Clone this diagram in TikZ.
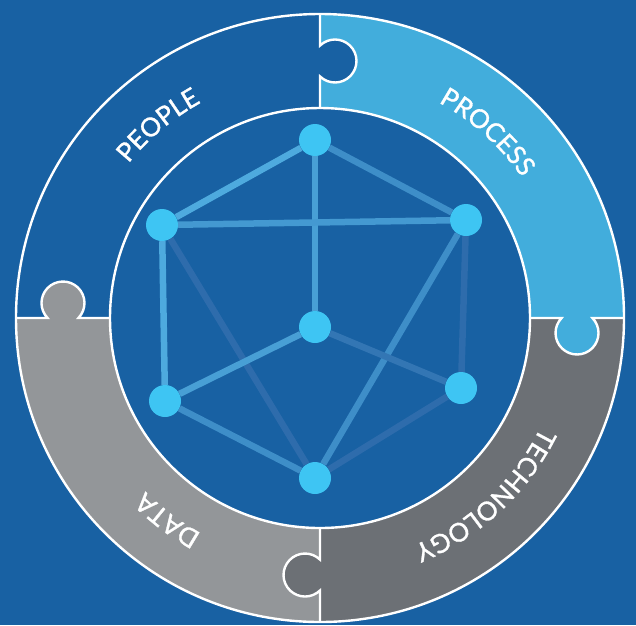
\documentclass[tikz,border=0pt]{standalone}
\usepackage{fontspec}
\newfontfamily\lblfam[FakeBold=1.2]{Lato}
\usetikzlibrary{decorations.text}
\definecolor{bg}{RGB}{24,97,163}
\definecolor{proc}{RGB}{66,173,220}
\definecolor{tech}{RGB}{108,112,117}
\definecolor{datac}{RGB}{147,150,153}
\definecolor{dotc}{RGB}{62,197,243}
\definecolor{eL}{RGB}{78,170,222}
\definecolor{eM}{RGB}{62,142,200}
\definecolor{eD}{RGB}{46,108,172}
\newcommand\lblfont{\lblfam\fontsize{26}{26}\selectfont}
\tikzset{
  ringline/.style={white, line width=2.4pt},
  dotnode/.style={circle, fill=dotc, minimum size=32pt, inner sep=0pt},
  edgeline/.style={line width=6.5pt},
  arclabel/.style={decorate, decoration={text along path, text align=center, text color=white, text={|\lblfont|#1}}}
}
\begin{document}
\begin{tikzpicture}[x=1pt,y=1pt]
\fill[bg] (0,0) rectangle (636,-625);
\useasboundingbox (0,0) rectangle (636,-625);
\begin{scope}[shift={(320,-318)}]
  % ring sectors
  \fill[proc] (0:304) arc[start angle=0,end angle=90,radius=304] -- (90:210) arc[start angle=90,end angle=0,radius=210] -- cycle;
  \fill[tech] (-90:304) arc[start angle=-90,end angle=0,radius=304] -- (0:210) arc[start angle=0,end angle=-90,radius=210] -- cycle;
  \fill[datac] (180:304) arc[start angle=180,end angle=270,radius=304] -- (270:210) arc[start angle=270,end angle=180,radius=210] -- cycle;
  % puzzle knobs
  \fill[bg] (15,257) circle[radius=21.5];
  \fill[proc] (257,-15) circle[radius=21.5];
  \fill[tech] (-15,-257) circle[radius=21.5];
  \fill[datac] (-257,15) circle[radius=21.5];
  % outlines
  \draw[ringline] (0,0) circle[radius=304];
  \draw[ringline] (0,0) circle[radius=210];
  \foreach \r in {0,-90,-180,-270}{
    \begin{scope}[rotate=\r]
      \draw[ringline] (0,210) -- (0,241.6) arc[start angle=-134.2,end angle=134.2,radius=21.5] -- (0,304);
    \end{scope}
  }
  % labels
  \path[arclabel=PEOPLE] (170:246) arc[start angle=170,end angle=90,radius=246];
  \path[arclabel=PROCESS] (88:246) arc[start angle=88,end angle=8,radius=246];
  \path[arclabel=TECHNOLOGY] (-3:246) arc[start angle=-3,end angle=-91,radius=246];
  \path[arclabel=DATA] (-87:246) arc[start angle=-87,end angle=-167,radius=246];
\end{scope}
% graph
\node[dotnode] (T) at (315,-140) {};
\node[dotnode] (LU) at (162,-225) {};
\node[dotnode] (RU) at (466,-220) {};
\node[dotnode] (C) at (315,-327) {};
\node[dotnode] (LL) at (165,-401) {};
\node[dotnode] (RL) at (461,-388) {};
\node[dotnode] (B) at (315,-478) {};
\draw[edgeline, eL] (T) -- (LU);
\draw[edgeline, eM] (T) -- (RU);
\draw[edgeline, eL!60!eM] (T) -- (C);
\draw[edgeline, eM!60!eL] (LU) -- (RU);
\draw[edgeline, eL] (LU) -- (LL);
\draw[edgeline, eD] (LU) -- (B);
\draw[edgeline, eM] (RU) -- (B);
\draw[edgeline, eD] (RU) -- (RL);
\draw[edgeline, eL!60!eM] (C) -- (LL);
\draw[edgeline, eD!70!eM] (C) -- (RL);
\draw[edgeline, eM] (LL) -- (B);
\draw[edgeline, eD] (RL) -- (B);
\end{tikzpicture}
\end{document}
